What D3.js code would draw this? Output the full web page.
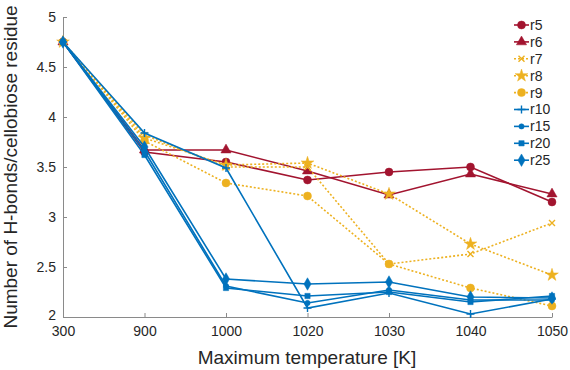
<!DOCTYPE html>
<html lang="en">
<meta charset="utf-8">
<title>H-bonds per cellobiose residue</title>
<style>
  body { margin: 0; background: #fff; }
  svg text { font-family: "Liberation Sans", Arial, sans-serif; fill: #262626; }
</style>
<body>
<div id="chart"></div>
<script src="https://cdn.jsdelivr.net/npm/d3@7"></script>
<script>
// Categories on the x axis (evenly spaced, not to scale)
var temps = ["300", "900", "1000", "1020", "1030", "1040", "1050"];
var yTicks = [2, 2.5, 3, 3.5, 4, 4.5, 5];

// Values
var r5  = [4.75, 3.65, 3.55, 3.37, 3.45, 3.50, 3.15];
var r6  = [4.75, 3.67, 3.67, 3.46, 3.22, 3.43, 3.23];
var r7  = [4.75, 3.82, 3.50, 3.50, 2.53, 2.63, 2.94];
var r8  = [4.75, 3.79, 3.52, 3.54, 3.23, 2.73, 2.42];
var r9  = [4.75, 3.76, 3.34, 3.21, 2.53, 2.29, 2.11];
var r10 = [4.75, 3.84, 3.49, 2.09, 2.24, 2.03, 2.18];
var r15 = [4.75, 3.66, 2.31, 2.14, 2.27, 2.17, 2.17];
var r20 = [4.75, 3.62, 2.29, 2.21, 2.25, 2.15, 2.21];
var r25 = [4.75, 3.70, 2.38, 2.33, 2.35, 2.20, 2.19];

var red = "#A2142F", yellow = "#EDB120", blue = "#0072BD";

var series = [
  {name: "r5",  values: r5,  color: red,    dash: null, marker: "circle"},
  {name: "r6",  values: r6,  color: red,    dash: null, marker: "triangle"},
  {name: "r7",  values: r7,  color: yellow, dash: "2,2", marker: "x"},
  {name: "r8",  values: r8,  color: yellow, dash: "2,2", marker: "star"},
  {name: "r9",  values: r9,  color: yellow, dash: "2,2", marker: "circle"},
  {name: "r10", values: r10, color: blue,   dash: null, marker: "plus"},
  {name: "r15", values: r15, color: blue,   dash: null, marker: "dot"},
  {name: "r20", values: r20, color: blue,   dash: null, marker: "square"},
  {name: "r25", values: r25, color: blue,   dash: null, marker: "diamond"}
];

var W = 570, H = 370;
var svg = d3.select("#chart").append("svg").attr("width", W).attr("height", H);

var x = d3.scalePoint().domain(temps).range([63, 552]);
var y = d3.scaleLinear().domain([2, 5]).range([317, 17]);

// axes, MATLAB style: ticks pointing inward, no box
var axisColor = "#8a8a8a";
var xAxis = svg.append("g").attr("transform", "translate(0,317)")
  .call(d3.axisBottom(x).tickSizeInner(-4).tickSizeOuter(0).tickPadding(11));
var yAxis = svg.append("g").attr("transform", "translate(63,0)")
  .call(d3.axisLeft(y).tickValues(yTicks).tickFormat(d3.format("")).tickSizeInner(-4).tickSizeOuter(0).tickPadding(7));
[xAxis, yAxis].forEach(function(a) {
  a.select(".domain").attr("stroke", axisColor).attr("stroke-width", 1);
  a.selectAll(".tick line").attr("stroke", axisColor);
  a.selectAll(".tick text").attr("font-size", 14).style("fill", "#262626");
});
xAxis.selectAll(".tick text").attr("dy", "0.6em");
// the lowest y label sits just above the x labels, as in the original
yAxis.selectAll(".tick text").filter(function(d) { return d == 2; }).attr("dy", "0.2em");

svg.append("text").attr("x", 307).attr("y", 364).attr("text-anchor", "middle")
  .attr("font-size", 19).text("Maximum temperature [K]");
svg.append("text").attr("transform", "translate(17,167) rotate(-90)")
  .attr("text-anchor", "middle").attr("font-size", 19)
  .text("Number of H-bonds/cellobiose residue");

function drawMarker(g, type, color) {
  var sym = {
    circle: [d3.symbolCircle, 50], dot: [d3.symbolCircle, 22],
    triangle: [d3.symbolTriangle, 45], star: [d3.symbolStar, 50],
    square: [d3.symbolSquare, 28], diamond: [d3.symbolDiamond, 45]
  }[type];
  if (sym) {
    g.append("path").attr("d", d3.symbol().type(sym[0]).size(sym[1])())
      .attr("fill", color).attr("stroke", color).attr("stroke-width", 0.5);
  } else if (type == "x") {
    g.append("path").attr("d", "M-3,-3L3,3M-3,3L3,-3").attr("stroke", color).attr("stroke-width", 1.4);
  } else if (type == "plus") {
    g.append("path").attr("d", "M-4,0L4,0M0,-4L0,4").attr("stroke", color).attr("stroke-width", 1.4);
  }
}

var line = d3.line().x(function(d, i) { return x(temps[i]); }).y(function(d) { return y(d); });

series.forEach(function(s) {
  var g = svg.append("g");
  g.append("path").datum(s.values).attr("d", line)
    .attr("fill", "none").attr("stroke", s.color).attr("stroke-width", 1.6)
    .attr("stroke-dasharray", s.dash);
  s.values.forEach(function(v, i) {
    var m = g.append("g").attr("transform", "translate(" + x(temps[i]) + "," + y(v) + ")");
    drawMarker(m, s.marker, s.color);
  });
});

// legend
var legend = svg.append("g");
series.forEach(function(s, i) {
  var ly = 25 + i * 16.9;
  var row = legend.append("g").attr("transform", "translate(0," + ly + ")");
  row.append("line").attr("x1", 514).attr("x2", 529).attr("y1", 0).attr("y2", 0)
    .attr("stroke", s.color).attr("stroke-width", 1.6).attr("stroke-dasharray", s.dash);
  var m = row.append("g").attr("transform", "translate(521.5,0)");
  drawMarker(m, s.marker, s.color);
  row.append("text").attr("x", 530).attr("y", 0).attr("dy", "0.35em")
    .attr("font-size", 14).text(s.name);
});
</script>
</body>
</html>
